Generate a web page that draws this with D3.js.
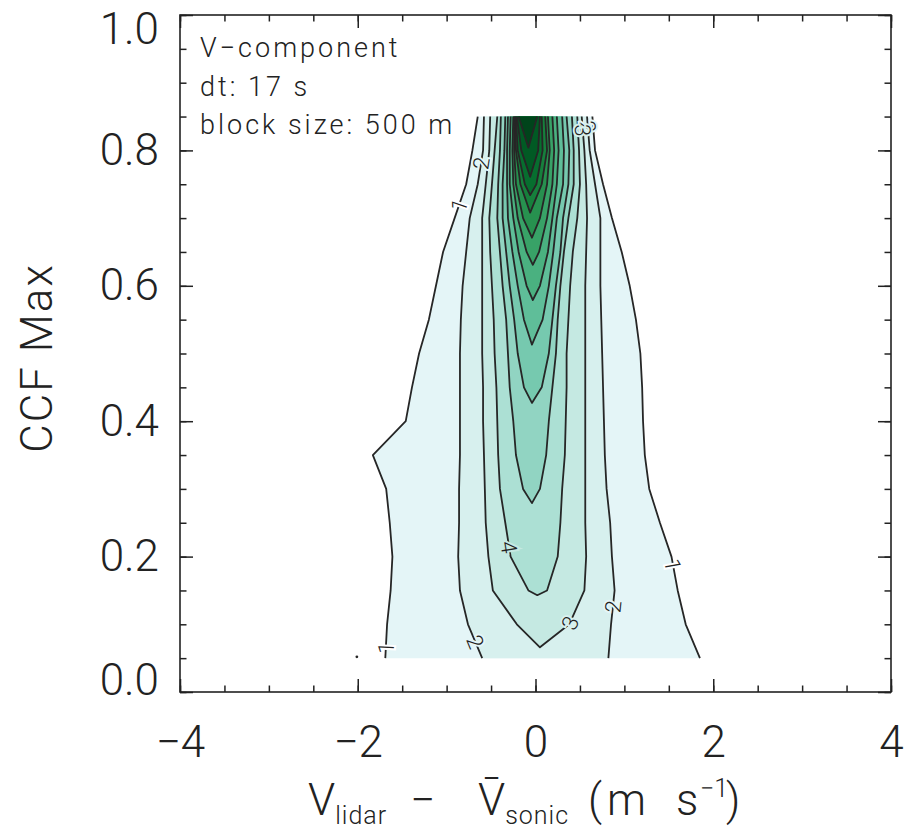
<!DOCTYPE html>
<html>
<head>
<meta charset="utf-8">
<script src="https://cdn.jsdelivr.net/npm/d3@7/dist/d3.min.js"></script>
<style>
body { margin: 0; background: #fff; }
text { font-family: "Roboto Light", Roboto, "DejaVu Sans", sans-serif; font-weight: 300; fill: #222; }
</style>
</head>
<body>
<div class="canvas"></div>
<script>
// values: x = V_lidar - V_sonic (m/s), y = CCF max
const ccfRows = [0.05, 0.10, 0.15, 0.20, 0.25, 0.30, 0.35, 0.40, 0.45, 0.50, 0.55, 0.60, 0.65, 0.70, 0.75, 0.80, 0.85];
const contourLevels = [1, 2, 3, 4, 5, 6, 7, 8, 9, 10, 11, 12, 13, 14];
const _ = null;

// left crossing of each contour level at every ccf row
const leftEdge = [
    [-1.69, -1.67, -1.63, -1.61, -1.64, -1.68, -1.83, -1.46, -1.39, -1.31, -1.20, -1.12, -1.04, -0.91, -0.78, -0.71, -0.65],
    [-0.60, -0.76, -0.85, -0.87, -0.86, -0.86, -0.85, -0.85, -0.85, -0.85, -0.84, -0.82, -0.78, -0.74, -0.65, -0.59, -0.58],
    [_, -0.21, -0.48, -0.53, -0.56, -0.57, -0.58, -0.59, -0.59, -0.60, -0.60, -0.60, -0.60, -0.60, -0.56, -0.52, -0.51],
    [_, _, -0.08, -0.28, -0.34, -0.40, -0.42, -0.43, -0.44, -0.46, -0.47, -0.49, -0.51, -0.52, -0.49, -0.46, -0.43],
    [_, _, _, _, _, -0.14, -0.22, -0.25, -0.29, -0.31, -0.33, -0.37, -0.40, -0.43, -0.42, -0.40, -0.39],
    [_, _, _, _, _, _, _, _, -0.13, -0.20, -0.24, -0.29, -0.33, -0.37, -0.37, -0.35, -0.34],
    [_, _, _, _, _, _, _, _, _, _, -0.13, -0.20, -0.26, -0.31, -0.32, -0.32, -0.31],
    [_, _, _, _, _, _, _, _, _, _, _, -0.10, -0.19, -0.25, -0.29, -0.29, -0.28],
    [_, _, _, _, _, _, _, _, _, _, _, _, -0.10, -0.20, -0.25, -0.26, -0.25],
    [_, _, _, _, _, _, _, _, _, _, _, _, _, -0.14, -0.22, -0.24, -0.24],
    [_, _, _, _, _, _, _, _, _, _, _, _, _, _, -0.17, -0.22, -0.23],
    [_, _, _, _, _, _, _, _, _, _, _, _, _, _, -0.12, -0.20, -0.22],
    [_, _, _, _, _, _, _, _, _, _, _, _, _, _, _, -0.16, -0.21],
    [_, _, _, _, _, _, _, _, _, _, _, _, _, _, _, _, -0.19]
];

// right crossing of each contour level at every ccf row
const rightEdge = [
    [1.85, 1.69, 1.60, 1.53, 1.40, 1.28, 1.23, 1.21, 1.20, 1.18, 1.13, 1.06, 0.97, 0.86, 0.76, 0.67, 0.64],
    [0.82, 0.85, 0.89, 0.86, 0.84, 0.80, 0.78, 0.77, 0.76, 0.75, 0.74, 0.73, 0.73, 0.73, 0.67, 0.61, 0.58],
    [_, 0.38, 0.55, 0.57, 0.56, 0.56, 0.56, 0.56, 0.56, 0.56, 0.56, 0.56, 0.57, 0.58, 0.57, 0.55, 0.52],
    [_, _, 0.13, 0.25, 0.28, 0.30, 0.33, 0.34, 0.35, 0.35, 0.37, 0.39, 0.42, 0.47, 0.50, 0.49, 0.47],
    [_, _, _, _, _, 0.05, 0.12, 0.15, 0.19, 0.23, 0.25, 0.28, 0.32, 0.37, 0.43, 0.43, 0.41],
    [_, _, _, _, _, _, _, _, 0.07, 0.15, 0.19, 0.23, 0.28, 0.31, 0.37, 0.38, 0.35],
    [_, _, _, _, _, _, _, _, _, _, 0.08, 0.15, 0.20, 0.24, 0.31, 0.32, 0.30],
    [_, _, _, _, _, _, _, _, _, _, _, 0.05, 0.14, 0.19, 0.24, 0.26, 0.24],
    [_, _, _, _, _, _, _, _, _, _, _, _, 0.04, 0.13, 0.19, 0.21, 0.19],
    [_, _, _, _, _, _, _, _, _, _, _, _, _, 0.05, 0.13, 0.16, 0.14],
    [_, _, _, _, _, _, _, _, _, _, _, _, _, _, 0.07, 0.13, 0.11],
    [_, _, _, _, _, _, _, _, _, _, _, _, _, _, 0.01, 0.08, 0.07],
    [_, _, _, _, _, _, _, _, _, _, _, _, _, _, _, 0.03, 0.05],
    [_, _, _, _, _, _, _, _, _, _, _, _, _, _, _, _, 0.02]
];

// lowest point where a level closes (null: open at the bottom)
const apexPoints = [null, null, [0.05, 0.066], [0.02, 0.143], [-0.04, 0.279], [-0.04, 0.427], [-0.04, 0.513],
    [-0.03, 0.579], [-0.03, 0.631], [-0.04, 0.671], [-0.06, 0.708], [-0.06, 0.734], [-0.06, 0.761], [-0.08, 0.804]];

// contour labels: level, side, ccf
const contourLabels = [
    [1, 'L', 0.065], [2, 'L', 0.074], [3, 'R', 0.102], [4, 'L', 0.214], [2, 'R', 0.126],
    [1, 'R', 0.188], [1, 'L', 0.719], [2, 'L', 0.781], [2, 'R', 0.835], [3, 'R', 0.83]
];
const strayPoints = [[-2.01, 0.052]];

const xTicks = [-4, -2, 0, 2, 4];
const xMinor = d3.range(-4, 4.01, 0.5);
const yTicks = [0, 0.2, 0.4, 0.6, 0.8, 1.0];
const yMinor = d3.range(0, 1.001, 0.05);
const infoLines = ['V\u2212component', 'dt: 17 s', 'block size: 500 m'];

const svg = d3.select('.canvas')
    .append('svg')
    .attr('width', 904)
    .attr('height', 831);

const margin = { top: 15, right: 13, bottom: 139, left: 180 };
const graphWidth = 904 - margin.left - margin.right;
const graphHeight = 831 - margin.top - margin.bottom;

const graph = svg.append('g')
    .attr('transform', `translate(${margin.left}, ${margin.top})`);

const x = d3.scaleLinear().domain([-4, 4]).range([0, graphWidth]);
const y = d3.scaleLinear().domain([0, 1]).range([graphHeight, 0]);

const bandColor = k => d3.interpolateBuGn(0.125 + (k - 1) * 0.875 / 13);

// build point lists per level
const levels = contourLevels.map((lev, i) => {
    const left = [], right = [];
    ccfRows.forEach((c, j) => {
        if (leftEdge[i][j] !== null) left.push([leftEdge[i][j], c]);
        if (rightEdge[i][j] !== null) right.push([rightEdge[i][j], c]);
    });
    return { lev, left, right, apex: apexPoints[i] };
});

const line = d3.line().x(d => x(d[0])).y(d => y(d[1]));

// filled bands
graph.append('g').selectAll('path')
    .data(levels)
    .enter().append('path')
    .attr('d', d => {
        const pts = (d.apex ? [d.apex] : []).concat(d.left, d.right.slice().reverse());
        return line(pts) + 'Z';
    })
    .attr('fill', d => bandColor(d.lev));

// contour lines (not along the data edges)
const linePaths = [];
levels.forEach(d => {
    if (d.apex) linePaths.push(d.left.slice().reverse().concat([d.apex], d.right));
    else { linePaths.push(d.left); linePaths.push(d.right); }
});
graph.append('g').selectAll('path')
    .data(linePaths)
    .enter().append('path')
    .attr('d', line)
    .attr('fill', 'none')
    .attr('stroke', '#262626')
    .attr('stroke-width', 1.8)
    .attr('stroke-linejoin', 'round');

graph.selectAll('.stray')
    .data(strayPoints)
    .enter().append('circle')
    .attr('cx', d => x(d[0]))
    .attr('cy', d => y(d[1]))
    .attr('r', 1.4)
    .attr('fill', '#262626');

// labels placed on the contour at a given ccf, rotated along it
const labelPos = ([lev, side, c]) => {
    const d = levels[lev - 1];
    const pts = (d.apex ? [d.apex] : []).concat(side === 'L' ? d.left : d.right);
    let k = 0;
    while (k < pts.length - 2 && pts[k + 1][1] < c) k++;
    const a = pts[k], b = pts[k + 1];
    const t = (c - a[1]) / (b[1] - a[1]);
    const px = x(a[0] + t * (b[0] - a[0])), py = y(c);
    let ang = Math.atan2(y(b[1]) - y(a[1]), x(b[0]) - x(a[0])) * 180 / Math.PI;
    if (ang > 90) ang -= 180;
    if (ang < -90) ang += 180;
    return { px, py, ang, lev };
};

graph.append('g').selectAll('text')
    .data(contourLabels.map(labelPos))
    .enter().append('text')
    .attr('transform', d => `translate(${d.px}, ${d.py}) rotate(${d.ang})`)
    .attr('text-anchor', 'middle')
    .attr('dy', '0.36em')
    .attr('font-size', 22)
    .attr('stroke', d => d.lev > 1 ? bandColor(d.lev - 1) : '#fff')
    .attr('stroke-width', 4)
    .attr('paint-order', 'stroke')
    .text(d => d.lev);

// axes, ticks pointing inward on all four sides
const styleAxis = g => {
    g.select('.domain').remove();
    g.selectAll('.tick line').attr('stroke', '#222').attr('stroke-width', 1.5);
    g.selectAll('text').attr('font-size', 44).attr('fill', '#222')
        .style('font-family', '"Roboto Light", Roboto, "DejaVu Sans", sans-serif').style('font-weight', 300);
};

graph.append('g').attr('transform', `translate(0, ${graphHeight})`)
    .call(d3.axisBottom(x).tickValues(xTicks).tickSizeInner(-13).tickSizeOuter(0).tickPadding(34)
        .tickFormat(d3.format('d')))
    .call(styleAxis);
graph.append('g').attr('transform', `translate(0, ${graphHeight})`)
    .call(d3.axisBottom(x).tickValues(xMinor).tickSizeInner(-6.5).tickSizeOuter(0).tickFormat(''))
    .call(styleAxis);
graph.append('g')
    .call(d3.axisTop(x).tickValues(xTicks).tickSizeInner(-13).tickSizeOuter(0).tickFormat(''))
    .call(styleAxis);
graph.append('g')
    .call(d3.axisTop(x).tickValues(xMinor).tickSizeInner(-6.5).tickSizeOuter(0).tickFormat(''))
    .call(styleAxis);

const yAxisGroup = graph.append('g')
    .call(d3.axisLeft(y).tickValues(yTicks).tickSizeInner(-13).tickSizeOuter(0).tickPadding(21)
        .tickFormat(d3.format('.1f')))
    .call(styleAxis);
// end labels sit inside the frame height
yAxisGroup.selectAll('text').attr('y', d => d === 1 ? 14 : d === 0 ? -12 : 0);

graph.append('g')
    .call(d3.axisLeft(y).tickValues(yMinor).tickSizeInner(-6.5).tickSizeOuter(0).tickFormat(''))
    .call(styleAxis);
graph.append('g').attr('transform', `translate(${graphWidth}, 0)`)
    .call(d3.axisRight(y).tickValues(yTicks).tickSizeInner(-13).tickSizeOuter(0).tickFormat(''))
    .call(styleAxis);
graph.append('g').attr('transform', `translate(${graphWidth}, 0)`)
    .call(d3.axisRight(y).tickValues(yMinor).tickSizeInner(-6.5).tickSizeOuter(0).tickFormat(''))
    .call(styleAxis);

graph.append('rect')
    .attr('width', graphWidth)
    .attr('height', graphHeight)
    .attr('fill', 'none')
    .attr('stroke', '#222')
    .attr('stroke-width', 1.6);

// annotation in the upper left corner
graph.append('g').selectAll('text')
    .data(infoLines)
    .enter().append('text')
    .attr('x', 20)
    .attr('y', (d, i) => 42 + i * 38.5)
    .attr('font-size', 27)
    .attr('letter-spacing', 3)
    .text(d => d);

// axis titles
const xTitle = svg.append('text')
    .attr('y', 815)
    .attr('font-size', 44);
xTitle.append('tspan').attr('x', 308).text('V');
xTitle.append('tspan').attr('font-size', 25).attr('dy', 9).attr('letter-spacing', 1).text('lidar');
xTitle.append('tspan').attr('x', 410).attr('dy', -9).attr('textLength', 30).text('\u2212');
xTitle.append('tspan').attr('x', 478).text('V\u0304');
xTitle.append('tspan').attr('font-size', 25).attr('dy', 9).attr('letter-spacing', 1).text('sonic');
xTitle.append('tspan').attr('x', 588).attr('dy', -9).text('(');
xTitle.append('tspan').attr('x', 607).text('m');
xTitle.append('tspan').attr('x', 676).text('s');
xTitle.append('tspan').attr('x', 700).attr('font-size', 25).attr('dy', -18).text('\u22121');
xTitle.append('tspan').attr('x', 726).attr('dy', 18).text(')');

svg.append('text')
    .attr('transform', 'translate(52, 358) rotate(-90)')
    .attr('text-anchor', 'middle')
    .attr('font-size', 44)
    .attr('letter-spacing', 2)
    .text('CCF Max');
</script>
</body>
</html>
